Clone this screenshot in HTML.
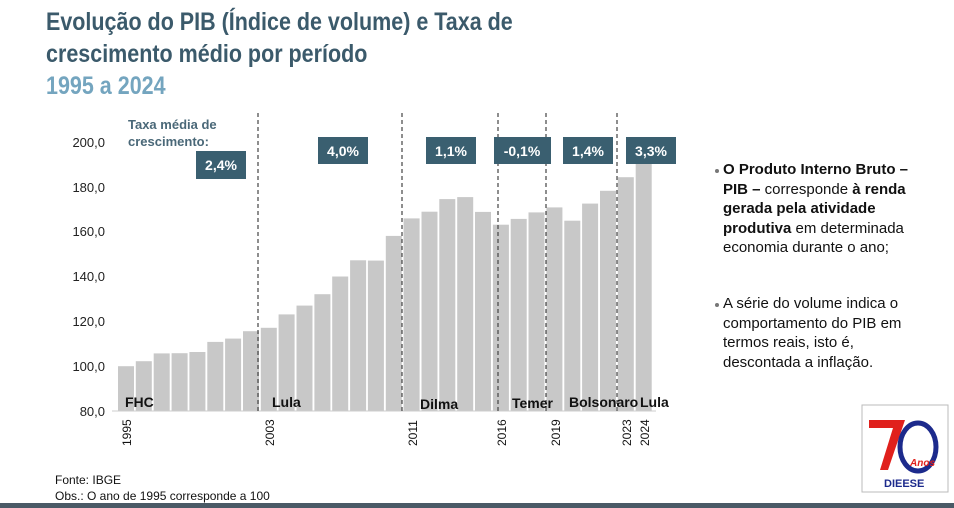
<!DOCTYPE html>
<html><head><meta charset="utf-8"><style>
body{margin:0;width:954px;height:508px;background:#fff;position:relative;overflow:hidden;font-family:"Liberation Sans",Arial,sans-serif}
.t{position:absolute;left:46px;top:6px;font-size:25px;font-weight:bold;color:#3b5a6b;line-height:32px;transform:scaleX(0.86);transform-origin:0 0;white-space:nowrap}
.t span{color:#74a5bf}
.r{position:absolute;left:723px;width:208px;font-size:15px;line-height:19.5px;color:#111}
.r:before{content:"";position:absolute;left:-8px;top:9px;width:4px;height:4px;border-radius:50%;background:#777}
.f{position:absolute;left:55px;font-size:12px;color:#111}
</style></head><body>
<div class="t">Evolução do PIB (Índice de volume) e Taxa de<br>crescimento médio por período<br><span>1995 a 2024</span></div>
<svg width="954" height="508" style="position:absolute;left:0;top:0" font-family="Liberation Sans, Arial, sans-serif">
<g fill="#c8c8c8" id="bars"></g>
<g font-size="13" fill="#222" text-anchor="end">
<text x="105" y="147">200,0</text><text x="105" y="192">180,0</text><text x="105" y="236">160,0</text><text x="105" y="281">140,0</text><text x="105" y="326">120,0</text><text x="105" y="371">100,0</text><text x="105" y="416">80,0</text>
</g>
<line x1="112" y1="411" x2="656" y2="411" stroke="#ccc" stroke-width="1"/>
<g stroke="#444" stroke-width="1.2" stroke-dasharray="4,3">
<line x1="258" y1="113" x2="258" y2="411"/><line x1="402" y1="113" x2="402" y2="411"/><line x1="498" y1="113" x2="498" y2="411"/><line x1="546" y1="113" x2="546" y2="411"/><line x1="617" y1="113" x2="617" y2="411"/>
</g>
<g fill="#3a5f70">
<rect x="196" y="151" width="50" height="28"/><rect x="318" y="137" width="50" height="27"/><rect x="426" y="137" width="50" height="27"/><rect x="494" y="137" width="57" height="27"/><rect x="563" y="137" width="50" height="27"/><rect x="626" y="137" width="50" height="27"/>
</g>
<g fill="#fff" font-size="14" font-weight="bold" text-anchor="middle">
<text x="221" y="170">2,4%</text><text x="343" y="156">4,0%</text><text x="451" y="156">1,1%</text><text x="522" y="156">-0,1%</text><text x="588" y="156">1,4%</text><text x="651" y="156">3,3%</text>
</g>
<g fill="#4a6878" font-size="13" font-weight="bold"><text x="128" y="129">Taxa média de</text><text x="128" y="146">crescimento:</text></g>
<g fill="#111" font-size="14" font-weight="bold">
<text x="125" y="407">FHC</text><text x="272" y="407">Lula</text><text x="420" y="409">Dilma</text><text x="512" y="408">Temer</text><text x="569" y="407">Bolsonaro</text><text x="640" y="407">Lula</text>
</g>
<g fill="#111" font-size="12">
<text transform="translate(131,446) rotate(-90)">1995</text>
<text transform="translate(274,446) rotate(-90)">2003</text>
<text transform="translate(417,446) rotate(-90)">2011</text>
<text transform="translate(506,446) rotate(-90)">2016</text>
<text transform="translate(560,446) rotate(-90)">2019</text>
<text transform="translate(631,446) rotate(-90)">2023</text>
<text transform="translate(649,446) rotate(-90)">2024</text>
</g>
<rect x="862" y="405" width="86" height="87" fill="#fff" stroke="#bbb"/>
<path d="M869 420 L905 420 L888 470 L880 470 L893 428 L869 428 Z" fill="#e0201c"/>
<ellipse cx="918" cy="447" rx="18" ry="24" fill="none" stroke="#1c2a8c" stroke-width="5"/>
<text x="910" y="466" font-size="10" font-style="italic" font-weight="bold" fill="#e0201c">Anos</text>
<text x="884" y="487" font-size="11" font-weight="bold" fill="#1c2a8c">DIEESE</text>
<rect x="0" y="503" width="954" height="5" fill="#4a5a66"/>
</svg>
<div class="r" style="top:160px"><b>O Produto Interno Bruto – PIB –</b> corresponde <b>à renda gerada pela atividade produtiva</b> em determinada economia durante o ano;</div>
<div class="r" style="top:294px">A série do volume indica o comportamento do PIB em termos reais, isto é, descontada a inflação.</div>
<div class="f" style="top:473px">Fonte: IBGE</div>
<div class="f" style="top:489px">Obs.: O ano de 1995 corresponde a 100</div>
<script>
var v=[100,102.2,105.7,105.8,106.3,110.8,112.3,115.6,117.1,123.1,127,132.1,140,147.2,147.1,158.1,165.9,168.9,174.5,175.4,168.8,163.1,165.7,168.6,170.8,164.9,172.5,178.2,184.3,193];
var g=document.getElementById('bars'),s='';
for(var i=0;i<30;i++){var x=118+i*17.85,y=411-(v[i]-80)*2.242;s+='<rect x="'+x.toFixed(1)+'" y="'+y.toFixed(1)+'" width="16" height="'+(411-y).toFixed(1)+'"/>';}
g.innerHTML=s;
</script>
</body></html>
